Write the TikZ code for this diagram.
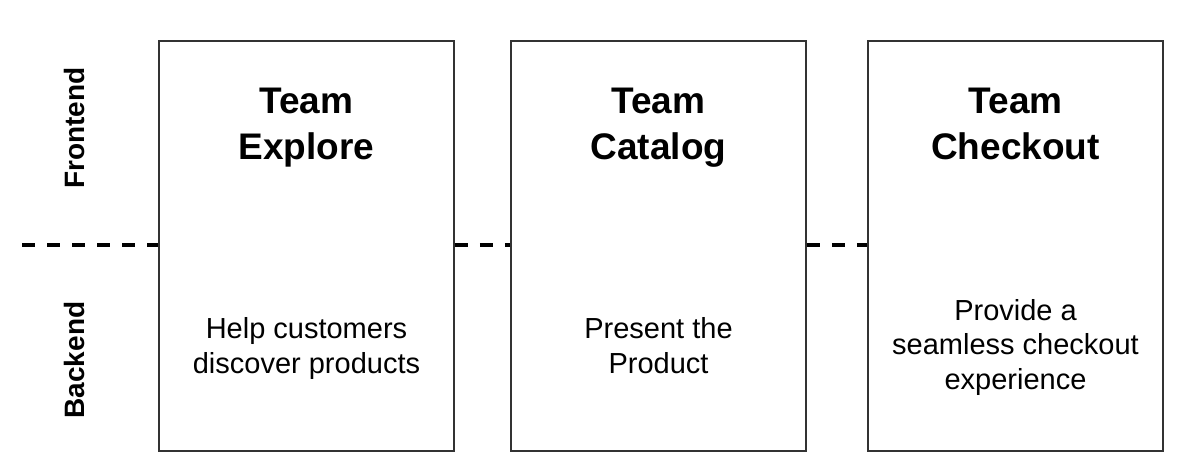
\documentclass[tikz,border=0pt]{standalone}
\usepackage{fontspec}
\setmainfont{Liberation Sans}
\usepackage{tikz}
\usetikzlibrary{positioning,calc}

\tikzset{
    teambox/.style={draw=black!80, line width=1.6pt, rectangle, minimum width=295pt, minimum height=410pt, inner sep=0pt},
    teamtitle/.style={anchor=base, align=center, font=\fontsize{37}{46}\selectfont\bfseries},
    teamdesc/.style={anchor=base, align=center, font=\fontsize{29}{34.5}\selectfont},
    layerlabel/.style={rotate=90, font=\fontsize{28}{34}\selectfont\bfseries},
    dashline/.style={line width=3.6pt, dash pattern=on 13pt off 12pt}
}

\begin{document}
\begin{tikzpicture}[x=1pt, y=-1pt]
    \useasboundingbox (0,0) rectangle (1177,461);

    \node (explore) [teambox] at (306.5,246) {};
    \node (catalog) [teambox] at (658.5,246) {};
    \node (checkout) [teambox] at (1015.5,246) {};

    % anchor=base sits on the last line
    \node (explore_title) [teamtitle] at (306.5,159) {Team\\Explore};
    \node (catalog_title) [teamtitle] at (658.5,159) {Team\\Catalog};
    \node (checkout_title) [teamtitle] at (1015.5,159) {Team\\Checkout};

    \node (explore_desc) [teamdesc] at (306.5,373) {Help customers\\discover products};
    \node (catalog_desc) [teamdesc] at (658.5,373) {Present the\\Product};
    \node (checkout_desc) [teamdesc] at (1015.5,389) {Provide a\\seamless checkout\\experience};

    \node (frontend) [layerlabel] at (74,128) {Frontend};
    \node (backend) [layerlabel] at (74,360) {Backend};

    \coordinate (lineleft) at (22,245);
    \draw[dashline] (lineleft) -- (lineleft -| explore.west);
    \draw[dashline] (explore.east |- lineleft) -- (catalog.west |- lineleft);
    \draw[dashline] (catalog.east |- lineleft) -- (checkout.west |- lineleft);
\end{tikzpicture}
\end{document}
